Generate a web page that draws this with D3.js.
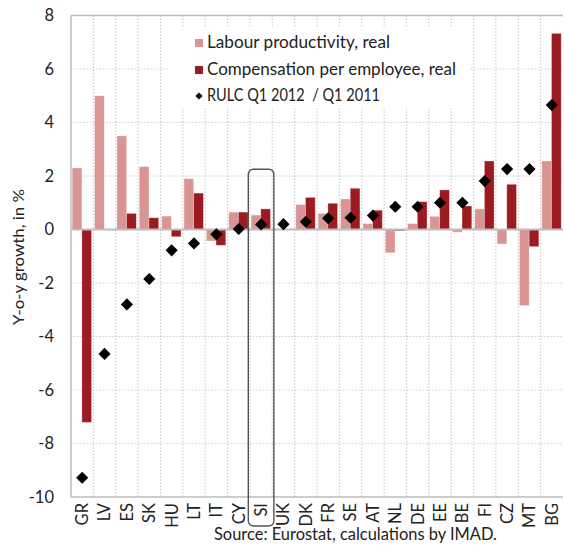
<!DOCTYPE html>
<html><head><meta charset="utf-8">
<script src="https://cdn.jsdelivr.net/npm/d3@7"></script>
<style>body{margin:0;background:#fff}svg{display:block;font-family:Lato,"Open Sans",sans-serif}</style>
</head><body><svg id="c" width="564" height="547"></svg>
<script>
const categories = ["GR","LV","ES","SK","HU","LT","IT","CY","SI","UK","DK","FR","SE","AT","NL","DE","EE","BE","FI","CZ","MT","BG"];
const labourProductivity = [2.3,5.0,3.5,2.35,0.5,1.9,-0.43,0.65,0.54,null,0.93,0.6,1.14,0.22,-0.87,0.22,0.49,-0.1,0.77,-0.54,-2.84,2.56];
const compensation = [-7.21,0,0.6,0.44,-0.27,1.36,-0.59,0.65,0.77,null,1.2,0.98,1.54,0.72,-0.05,1.04,1.48,0.88,2.56,1.69,-0.64,7.33];
const rulc = [-9.28,-4.65,-2.8,-1.85,-0.78,-0.52,-0.18,0.02,0.19,0.2,0.29,0.42,0.44,0.52,0.85,0.85,1.0,1.0,1.81,2.26,2.26,4.65];
const yTicks = [-10,-8,-6,-4,-2,0,2,4,6,8];
const seriesNames = ["Labour productivity, real","Compensation per employee, real","RULC Q1 2012  / Q1 2011"];
const colors = {light:"#d99594", dark:"#9c1b20", grid:"#c4c4c4", axis:"#bdbdbd"};

const svg = d3.select("#c");
const x = d3.scaleBand().domain(categories).range([71,563]).padding(0);
const y = d3.scaleLinear().domain([-10,8]).range([497,15.5]);
const bw = x.bandwidth();
const x1 = d3.scaleBand().domain(["lp","comp"]).range([1.2,bw-1.8]).padding(0);

// gridlines
const g = svg.append("g");
g.selectAll(".hg").data(yTicks.filter(v=>v!==0 && v!==-10 && v!==8)).join("line")
  .attr("x1",71).attr("x2",563).attr("y1",d=>y(d)).attr("y2",d=>y(d))
  .attr("stroke",colors.grid).attr("stroke-dasharray","1.2,2").attr("stroke-width",1.2);
g.selectAll(".vg").data(categories.slice(1)).join("line")
  .attr("x1",d=>x(d)).attr("x2",d=>x(d)).attr("y1",y(8)).attr("y2",y(-10))
  .attr("stroke",colors.grid).attr("stroke-dasharray","1.2,2").attr("stroke-width",1.2);

// legend background
svg.append("rect").attr("x",168).attr("y",28).attr("width",302).attr("height",80).attr("fill","#fff");

// frame
svg.append("line").attr("x1",71).attr("x2",563).attr("y1",y(8)).attr("y2",y(8)).attr("stroke",colors.axis).attr("stroke-width",1.5);
svg.append("line").attr("x1",71).attr("x2",563).attr("y1",y(-10)).attr("y2",y(-10)).attr("stroke",colors.axis).attr("stroke-width",1.5);
svg.append("line").attr("x1",71).attr("x2",71).attr("y1",y(8)).attr("y2",y(-10)).attr("stroke",colors.axis).attr("stroke-width",1.5);

// bars
const bars = svg.append("g");
categories.forEach((c,i)=>{
  [["lp",labourProductivity[i],colors.light],["comp",compensation[i],colors.dark]].forEach(([k,v,col])=>{
    if(v===null) return;
    bars.append("rect").attr("x",x(c)+x1(k)).attr("width",x1.bandwidth())
      .attr("y",y(Math.max(0,v))).attr("height",Math.abs(y(v)-y(0)))
      .attr("fill",col).attr("stroke","#fff").attr("stroke-opacity",0.35).attr("stroke-width",0.8);
  });
});

// zero line
svg.append("line").attr("x1",71).attr("x2",563).attr("y1",y(0)).attr("y2",y(0)).attr("stroke",colors.axis).attr("stroke-width",2.2);

// diamonds
const diamond = d3.symbol().type(d3.symbolSquare).size(74);
svg.append("g").selectAll("path").data(categories).join("path")
  .attr("d",diamond)
  .attr("transform",(d,i)=>`translate(${x(d)+bw/2},${y(rulc[i])}) rotate(45)`)
  .attr("fill","#000");

// SI highlight box
svg.append("rect").attr("x",x("SI")-1.6).attr("y",y(2.25)).attr("width",bw+3.2).attr("height",526-y(2.25))
  .attr("rx",5).attr("fill","none").attr("stroke","#555").attr("stroke-width",1.4);

// y tick labels
svg.append("g").selectAll("text").data(yTicks).join("text")
  .attr("x",54).attr("y",d=>y(d)).attr("dy","0.35em").attr("text-anchor","end")
  .attr("font-size",16.5).attr("fill","#222").text(d=>d);

// x labels
svg.append("g").selectAll("text").data(categories).join("text")
  .attr("transform",d=>`translate(${x(d)+bw/2},503) rotate(-90)`)
  .attr("text-anchor","end").attr("dy","0.36em").attr("font-size",16.5).attr("fill","#222").text(d=>d);

// y axis title
svg.append("text").attr("transform","translate(18.5,257) rotate(-90)").attr("text-anchor","middle")
  .attr("dy","0.35em").attr("font-size",16).attr("fill","#222")
  .attr("textLength",136).attr("lengthAdjust","spacingAndGlyphs").text("Y-o-y growth, in %");

// legend
const lg = svg.append("g");
lg.append("rect").attr("x",195).attr("y",39).attr("width",8).attr("height",8).attr("fill",colors.light);
lg.append("rect").attr("x",195).attr("y",66).attr("width",8).attr("height",8).attr("fill",colors.dark);
lg.append("path").attr("d",d3.symbol().type(d3.symbolSquare).size(26)).attr("transform","translate(199,96) rotate(45)").attr("fill","#000");
const lw = [183,249,173];
[48,75,101].forEach((by,i)=>{
  lg.append("text").attr("x",207).attr("y",by).attr("font-size",17).attr("fill","#222")
    .attr("textLength",lw[i]).attr("lengthAdjust","spacingAndGlyphs").style("white-space","pre").text(seriesNames[i]);
});

// source
svg.append("text").attr("x",214).attr("y",540).attr("font-size",16.5).attr("fill","#222")
  .attr("textLength",283).attr("lengthAdjust","spacingAndGlyphs").text("Source: Eurostat, calculations by IMAD.");
</script></body></html>
